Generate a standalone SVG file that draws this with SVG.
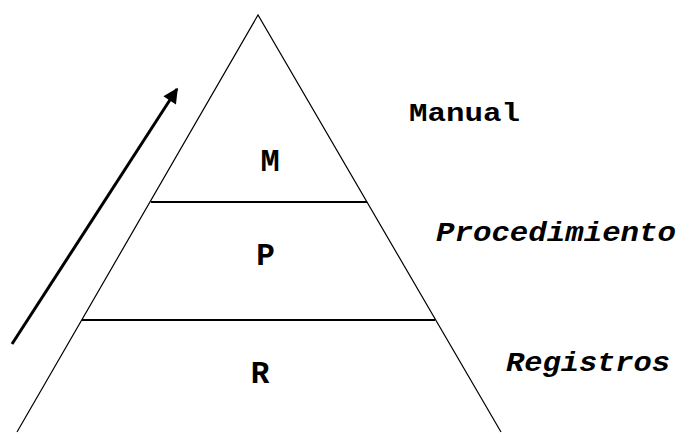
<svg xmlns="http://www.w3.org/2000/svg" width="679" height="434" viewBox="0 0 679 434">
<defs>
<style>
.t{font-family:"Liberation Mono","Courier New",monospace;font-weight:bold;fill:#000}
.i{font-style:italic}
.edge{stroke:#000;fill:none}
</style>
<marker id="ah" viewBox="0 0 10 10" refX="9" refY="5" markerWidth="6" markerHeight="5" orient="auto" markerUnits="strokeWidth">
<path d="M0,0 L10,5 L0,10 z" fill="#000"/>
</marker>
</defs>
<rect width="679" height="434" fill="#fff"/>
<g id="pyramid">
<polyline class="edge" points="17,432 258,15 501,432" stroke-width="1.2"/>
<line class="edge" x1="151" y1="202" x2="367" y2="202" stroke-width="2"/>
<line class="edge" x1="82" y1="320" x2="435" y2="320" stroke-width="2"/>
</g>
<g id="node-M"><text class="t" x="270" y="171" font-size="32" text-anchor="middle">M</text></g>
<g id="node-P"><text class="t" x="265.5" y="265" font-size="31" text-anchor="middle">P</text></g>
<g id="node-R"><text class="t" x="260" y="383" font-size="31" text-anchor="middle">R</text></g>
<g id="label-manual"><text class="t" x="409" y="121" font-size="26" textLength="111" lengthAdjust="spacingAndGlyphs">Manual</text></g>
<g id="label-proc"><text class="t i" x="436" y="241" font-size="28" textLength="240" lengthAdjust="spacingAndGlyphs">Procedimiento</text></g>
<g id="label-reg"><text class="t i" x="506" y="371" font-size="28" textLength="164" lengthAdjust="spacingAndGlyphs">Registros</text></g>
<g id="connectors">
<line class="edge" x1="12" y1="344" x2="177" y2="89" stroke-width="3" marker-end="url(#ah)"/>
</g>
</svg>
